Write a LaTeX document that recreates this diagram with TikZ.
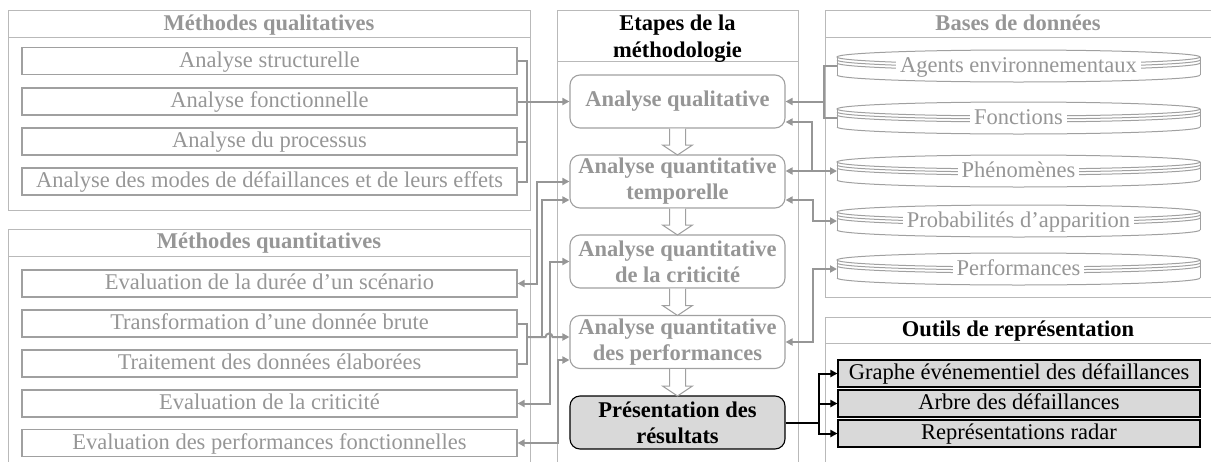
\documentclass[tikz,border=0pt]{standalone}
\usepackage{fontspec}
\setmainfont{Liberation Serif}
\usetikzlibrary{arrows.meta,calc}
\definecolor{txtgray}{RGB}{150,150,150}
\definecolor{boxgray}{RGB}{160,160,160}
\definecolor{pangray}{RGB}{185,185,185}
\definecolor{congray}{RGB}{150,150,150}
\definecolor{fillgray}{RGB}{217,217,217}
\newcommand\fsz{\fontsize{22.5}{26}\selectfont}
\newcommand\dbcyl[3]{%
  \draw[dbline] (1018.5,#2-9) ellipse [x radius=181.5, y radius=7];
  \draw[dbline] (837,#2-9) -- (837,#2+9);
  \draw[dbline] (1200,#2-9) -- (1200,#2+9);
  \draw[dbline] (837,#2-6) arc [start angle=180, end angle=0, x radius=181.5, y radius=7];
  \draw[dbline] (837,#2-3) arc [start angle=180, end angle=0, x radius=181.5, y radius=7];
  \draw[dbline] (837,#2+9) arc [start angle=180, end angle=0, x radius=181.5, y radius=7];
  \node[dbtext] (#1) at (1018.5,#2) {#3};
  \coordinate (#1w) at (837,#2);
}
\newcommand\hollowarrow[2]{%
  \draw[hollow] (669.5,#1) -- (669.5,#2-10) -- (662.5,#2-10) -- (677.5,#2) -- (692.5,#2-10) -- (685.5,#2-10) -- (685.5,#1);
}
\begin{document}
\begin{tikzpicture}[x=1pt,y=-1pt,
  panel/.style={draw=pangray, line width=0.9pt},
  tline/.style={text height=17.5pt, text depth=5.5pt},
  mbox/.style={tline, draw=boxgray, line width=1.1pt, minimum width=495pt, minimum height=27pt, inner sep=0pt, text=txtgray, font=\fsz},
  ptitle/.style={tline, font=\fsz\bfseries, text=txtgray, inner sep=0pt},
  stepbox/.style={draw=boxgray, line width=1.1pt, rounded corners=10pt, minimum width=215pt, minimum height=53pt, inner sep=0pt, align=center, font=\fsz\bfseries, text=txtgray},
  resbox/.style={stepbox, draw=black, fill=fillgray, text=black},
  dbtext/.style={tline, fill=white, inner xsep=4pt, inner ysep=0pt, text=txtgray, font=\fsz},
  dbline/.style={draw=boxgray, line width=1pt},
  toolbox/.style={tline, draw=black, line width=1.1pt, fill=fillgray, minimum width=362pt, minimum height=27pt, inner sep=0pt, font=\fsz},
  conn/.style={draw=congray, line width=2pt},
  arr/.style={-{Triangle[length=7pt,width=7pt]}},
  darr/.style={{Triangle[length=7pt,width=7pt]}-{Triangle[length=7pt,width=7pt]}},
  bconn/.style={draw=black, line width=2pt},
  hollow/.style={draw=boxgray, line width=1pt, fill=white}
]
\useasboundingbox (0,0) rectangle (1211,461);
\clip (0,0) rectangle (1211,461);

% panels
\draw[panel] (8,10) rectangle (530,210);
\draw[panel] (8,37) -- (530,37);
\draw[panel] (8,470) -- (8,229) -- (530,229) -- (530,470);
\draw[panel] (8,256) -- (530,256);
\draw[panel] (557,470) -- (557,10) -- (798,10) -- (798,470);
\draw[panel] (557,61) -- (798,61);
\draw[panel] (1215,10) -- (825,10) -- (825,297) -- (1215,297);
\draw[panel] (825,37) -- (1215,37);
\draw[panel] (1215,317) -- (825,317) -- (825,470);
\draw[panel] (825,343) -- (1215,343);

% titles
\node[ptitle] (tq) at (269,24) {Méthodes qualitatives};
\node[ptitle] (tn) at (269,242.5) {Méthodes quantitatives};
\node[align=center, inner sep=0pt, text=black, font=\fontsize{22.5}{27}\selectfont\bfseries] (te) at (677.5,38.5) {Etapes de la\\méthodologie};
\node[ptitle] (tb) at (1018,24) {Bases de données};
\node[ptitle, text=black] (to) at (1018,330) {Outils de représentation};

% qualitative methods
\node[mbox] (q1) at (269.5,61) {Analyse structurelle};
\node[mbox] (q2) at (269.5,101.5) {Analyse fonctionnelle};
\node[mbox] (q3) at (269.5,141.5) {Analyse du processus};
\node[mbox] (q4) at (269.5,181.5) {Analyse des modes de défaillances et de leurs effets};

% quantitative methods
\node[mbox] (m1) at (269.5,283.5) {Evaluation de la durée d’un scénario};
\node[mbox] (m2) at (269.5,323.5) {Transformation d’une donnée brute};
\node[mbox] (m3) at (269.5,363.5) {Traitement des données élaborées};
\node[mbox] (m4) at (269.5,403.5) {Evaluation de la criticité};
\node[mbox] (m5) at (269.5,443) {Evaluation des performances fonctionnelles};

% steps
\node[stepbox] (s1) at (677.5,101.5) {Analyse qualitative};
\node[stepbox] (s2) at (677.5,181.5) {Analyse quantitative\\temporelle};
\node[stepbox] (s3) at (677.5,261.5) {Analyse quantitative\\de la criticité};
\node[stepbox] (s4) at (677.5,342) {Analyse quantitative\\des performances};
\node[resbox] (s5) at (677.5,422.5) {Présentation des\\résultats};

\hollowarrow{128.5}{155}
\hollowarrow{208.5}{235}
\hollowarrow{288.5}{315.5}
\hollowarrow{369}{396}

% databases
\dbcyl{db1}{66}{Agents environnementaux}
\dbcyl{db2}{118}{Fonctions}
\dbcyl{db3}{171}{Phénomènes}
\dbcyl{db4}{221}{Probabilités d’apparition}
\dbcyl{db5}{269}{Performances}

% tools
\node[toolbox] (o1) at (1019,373.5) {Graphe événementiel des défaillances};
\node[toolbox] (o2) at (1019,403.5) {Arbre des défaillances};
\node[toolbox] (o3) at (1019,433.5) {Représentations radar};

% left connectors (qualitative)
\draw[conn] (q1.east) -- ++(9,0) |- (q4.east);
\draw[conn] (q3.east) -- ++(9,0);
\draw[conn,arr] (q2.east) -- (s1.west);

% left connectors (quantitative)
\draw[conn] (m2.east) -- ++(9,0) |- (m3.east);
\coordinate (lb) at (526,337);
\draw[conn,arr] (lb) -- (545.5,337) arc [start angle=180, end angle=360, radius=3.5] -- ($(s4.west)+(0,-5)$);
\draw[conn,darr] (m1.east) -- ++(19,0) |- (s2.west);
\draw[conn,arr] (542,337) |- ($(s2.west)+(0,18.5)$);
\draw[conn,darr] (m4.east) -- ++(32,0) |- (s3.west);
\draw[conn,darr] (m5.east) -- ++(40,0) |- ($(s4.west)+(0,18)$);

% right connectors
\coordinate (rb) at (824,101.5);
\draw[conn] (db1w) -- ++(-13,0) |- (db2w);
\draw[conn,arr] (rb) -- (s1.east);
\draw[conn,darr] ($(s2.east)+(0,-10.5)$) -- (db3w);
\draw[conn,arr] (812,171) |- ($(s1.east)+(0,20.5)$);
\draw[conn,darr] ($(s2.east)+(0,18.5)$) -- ++(27,0) |- (db4w);
\draw[conn,darr] (s4.east) -- ++(27,0) |- (db5w);

% black connectors
\coordinate (bj) at (819,422.5);
\draw[bconn] (s5.east) -- (bj);
\draw[bconn,arr] (bj) |- (o1.west);
\draw[bconn,arr] (bj) |- (o2.west);
\draw[bconn,arr] (bj) |- (o3.west);
\end{tikzpicture}
\end{document}
